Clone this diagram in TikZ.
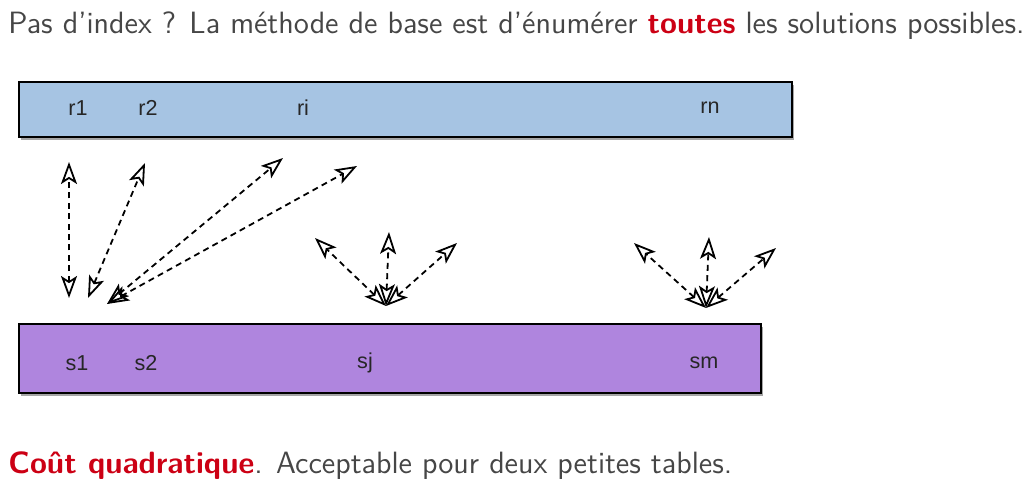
\documentclass[tikz,border=0pt]{standalone}
\usepackage{fontspec}
\newfontfamily\helv{Liberation Sans}
\usetikzlibrary{arrows.meta, positioning, shadows}
\definecolor{alerte}{RGB}{204,0,20}
\definecolor{texte}{RGB}{70,70,70}
\definecolor{bleu}{RGB}{166,196,227}
\definecolor{violet}{RGB}{175,133,222}

\begin{document}
\begin{tikzpicture}[
    x=0.5pt, y=-0.5pt,
    table/.style={rectangle, draw, line width=1pt, anchor=north west, inner sep=0pt, drop shadow={shadow xshift=0.8pt, shadow yshift=-1.6pt, fill=black, opacity=0.35}},
    cell/.style={font=\helv\fontsize{10.8}{12}\selectfont, text=black!85},
    phrase/.style={anchor=base west, inner sep=0pt, font=\sffamily\fontsize{15.4}{18}\selectfont, text=texte},
    lien/.style={line width=0.9pt, dash pattern=on 3pt off 2.2pt, >={Stealth[open, length=11pt, width=8pt, inset=2.5pt]}, <->}
]
\useasboundingbox (0,0) rectangle (1027,491);

\node[phrase] (titre) at (8,34) {Pas d’index ? La méthode de base est d’énumérer {\bfseries\color{alerte}toutes} les solutions possibles.};

\node[table, fill=bleu, minimum width=386.5pt, minimum height=27.5pt] (R) at (18,81) {};
\node[cell] (r1) at (78,108) {r1};
\node[cell] (r2) at (148,108) {r2};
\node[cell] (ri) at (303,108) {ri};
\node[cell] (rn) at (710,108) {rn};

\node[table, fill=violet, minimum width=371pt, minimum height=34.5pt] (S) at (18,323) {};
\node[cell] (s1) at (77,363) {s1};
\node[cell] (s2) at (146,363) {s2};
\node[cell] (sj) at (365,363) {sj};
\node[cell] (sm) at (704,363) {sm};

\coordinate (b1) at (69,298);
\coordinate (h1) at (69,162);
\coordinate (b2) at (88,298);
\coordinate (h2) at (145,163);
\coordinate (b3) at (107,304);
\coordinate (h3) at (283,158);
\coordinate (h4) at (357,166);
\coordinate (bj) at (386,306);
\coordinate (jg) at (315,238);
\coordinate (jh) at (389,232);
\coordinate (jd) at (457,243);
\coordinate (bm) at (706,308);
\coordinate (mg) at (634,243);
\coordinate (mh) at (709,237);
\coordinate (md) at (776,248);

\draw[lien] (b1) -- (h1);
\draw[lien] (b2) -- (h2);
\draw[lien] (b3) -- (h3);
\draw[lien] (b3) -- (h4);
\draw[lien] (bj) -- (jg);
\draw[lien] (bj) -- (jh);
\draw[lien] (bj) -- (jd);
\draw[lien] (bm) -- (mg);
\draw[lien] (bm) -- (mh);
\draw[lien] (bm) -- (md);

\node[phrase] (cout) at (8,473) {{\bfseries\color{alerte}Coût quadratique}. Acceptable pour deux petites tables.};

\end{tikzpicture}
\end{document}
